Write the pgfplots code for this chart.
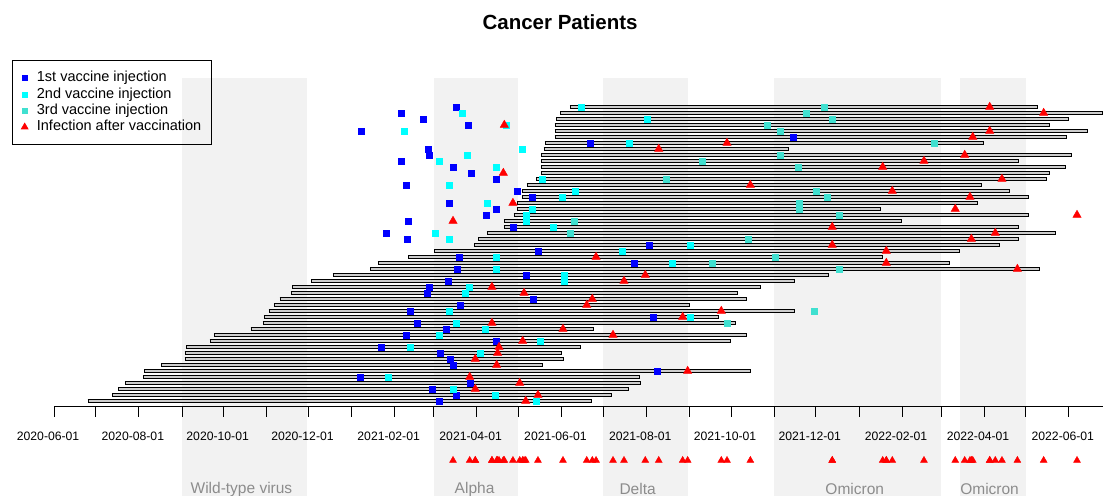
\documentclass[border=0pt]{standalone}
\usepackage{pgfplots}
\pgfplotsset{compat=1.18}
\usepackage{pgfplotstable}
\usepackage{fontspec}
\setmainfont{Liberation Sans}

\definecolor{dose1}{RGB}{0,0,255}
\definecolor{dose2}{RGB}{0,255,255}
\definecolor{dose3}{RGB}{64,224,208}
\definecolor{infect}{RGB}{255,0,0}
\definecolor{band}{RGB}{242,242,242}
\definecolor{bandtext}{RGB}{140,140,140}
\definecolor{barfill}{RGB}{205,205,205}

% x = days since 2020-06-01, row 50 is the top patient
\pgfplotstableread{
row start end d1 d2 d3 inf
50 371.1 708.1 289.6 379.3 554.1 673.1
49 364.2 754.5 249.4 293.7 540.9 711.9
48 361.3 730.4 265.2 427.0 560.1 nan
47 360.1 716.5 298.0 325.6 513.1 323.9
46 360.1 744.0 221.0 251.9 522.2 673.1
45 360.1 728.5 531.8 nan nan 660.9
44 352.9 669.2 386.0 414.1 632.8 484.1
43 352.2 528.7 269.2 337.1 nan 435.0
42 350.5 732.3 270.2 297.1 522.2 655.1
41 350.5 694.4 249.6 277.1 465.9 625.8
40 350.5 728.0 287.2 318.1 535.0 596.1
39 350.5 716.5 299.9 nan nan 323.2
38 346.7 714.5 318.1 351.0 440.2 681.9
37 340.0 667.8 253.2 283.9 nan 500.9
36 336.8 687.9 333.2 375.0 548.4 603.0
35 336.8 701.6 344.3 365.2 556.3 658.9
34 333.2 664.9 283.9 311.9 535.9 330.1
33 332.8 594.9 318.1 344.3 535.9 648.3
32 330.6 701.6 311.2 339.3 564.9 735.9
31 323.5 610.0 255.1 339.3 374.2 287.0
30 323.5 694.2 330.1 358.9 nan 559.8
29 311.4 721.0 238.8 274.2 371.1 677.1
28 305.2 694.2 254.1 283.9 499.7 659.9
27 302.3 680.3 428.0 457.3 nan 559.8
26 273.5 651.9 348.3 408.8 nan 598.7
25 254.8 596.1 291.5 318.1 519.0 389.9
24 233.0 644.7 417.2 445.0 473.3 598.7
23 227.3 709.3 290.1 318.1 564.9 693.0
22 200.4 557.3 339.3 366.8 nan 425.3
21 185.0 532.8 283.4 366.8 nan 410.0
20 171.2 508.3 269.9 298.3 nan 315.0
19 170.2 492.2 268.1 296.1 nan 338.1
18 162.3 498.3 345.0 nan nan 387.2
17 158.2 457.5 292.0 nan nan 383.2
16 154.4 533.0 256.3 283.9 546.9 480.0
15 151.0 478.6 431.1 457.7 nan 452.2
14 150.1 490.4 261.3 289.6 483.9 315.0
13 141.4 388.1 282.4 309.8 nan 366.1
12 115.0 498.3 253.2 277.1 nan 402.1
11 111.9 486.8 318.1 349.8 nan 337.1
10 95.1 378.8 235.0 256.3 nan 320.1
9 94.0 365.2 278.1 306.2 nan 319.1
8 94.0 367.1 285.3 nan nan 303.0
7 77.1 351.5 287.2 nan nan 318.4
6 64.9 501.2 434.0 nan nan 455.8
5 64.2 421.5 220.3 240.4 nan 299.0
4 51.0 422.0 299.4 nan nan 335.0
3 46.2 413.4 272.1 287.2 nan 303.0
2 41.9 401.1 289.4 317.0 nan 348.1
1 24.2 387.3 277.1 346.9 nan 339.3
}\patients

\begin{document}
\begin{tikzpicture}
\begin{axis}[
  x=1.39pt, y=6pt,
  xmin=0, xmax=754.6, ymin=0, ymax=67.83,
  clip=false,
  axis on top,
  axis y line=none, ytick=\empty,
  axis x line*=bottom,
  x axis line style={line width=1pt, -},
  xtick={0,30,61,92,122,153,183,214,245,273,304,334,365,395,426,457,487,518,548,579,610,638,669,699,730},
  xticklabels={2020-06-01,,2020-08-01,,2020-10-01,,2020-12-01,,2021-02-01,,2021-04-01,,2021-06-01,,2021-08-01,,2021-10-01,,2021-12-01,,2022-02-01,,2022-04-01,,2022-06-01},
  tick align=outside, major tick length=10pt,
  xtick style={black, line width=0.8pt},
  xticklabel style={font=\fontsize{12.2}{14}\selectfont, yshift=-11pt, xshift=-6pt},
  legend cell align=left,
  legend image code/.code={\draw[mark repeat=2,mark phase=2,#1] plot coordinates {(0pt,0pt) (4pt,0pt) (8pt,0pt)};},
  legend style={at={(-0.0401,0.8526)}, anchor=north west, draw=black, line width=0.8pt, fill=none,
    font=\fontsize{14.5}{16}\selectfont, inner xsep=9pt, inner ysep=9.8pt, row sep=0.4pt, column sep=7.7pt,
    nodes={inner sep=1.2pt, text height=10.5pt, text depth=3pt}},
]
% variant periods
\addplot[forget plot, fill=band, draw=none] coordinates {(92,-14.83) (182,-14.83) (182,54.83) (92,54.83)};
\addplot[forget plot, fill=band, draw=none] coordinates {(273,-14.83) (334,-14.83) (334,54.83) (273,54.83)};
\addplot[forget plot, fill=band, draw=none] coordinates {(395,-14.83) (456,-14.83) (456,54.83) (395,54.83)};
\addplot[forget plot, fill=band, draw=none] coordinates {(518,-14.83) (638,-14.83) (638,54.83) (518,54.83)};
\addplot[forget plot, fill=band, draw=none] coordinates {(652,-14.83) (699,-14.83) (699,54.83) (652,54.83)};

% follow-up bars
\addplot[forget plot, black, line width=4.4pt,
  quiver={u=\thisrow{end}-\thisrow{start}, v=0}] table[x=start, y=row] {\patients};
\addplot[forget plot, barfill, line width=2.4pt,
  quiver={u=\thisrow{end}-\thisrow{start}, v=0,
    every arrow/.append style={shorten <=1pt, shorten >=1pt}}] table[x=start, y=row] {\patients};

\addplot[only marks, mark=square*, mark size=3pt, color=dose1,
  legend image post style={mark size=2.5pt}] table[x=d1, y=row] {\patients};
\addlegendentry{1st vaccine injection}
\addplot[only marks, mark=square*, mark size=3pt, color=dose2,
  legend image post style={mark size=2.5pt}] table[x=d2, y=row] {\patients};
\addlegendentry{2nd vaccine injection}
\addplot[only marks, mark=square*, mark size=3pt, color=dose3,
  legend image post style={mark size=2.5pt}] table[x=d3, y=row] {\patients};
\addlegendentry{3rd vaccine injection}
\addplot[only marks, mark=triangle*, mark size=4.8pt, color=infect,
  legend image post style={mark size=3.8pt}] table[x=inf, y=row] {\patients};
\addlegendentry{Infection after vaccination}

% infections projected on the time line
\addplot[forget plot, only marks, mark=triangle*, mark size=4pt, color=infect]
  table[x=inf, y expr=-8.9] {\patients};

\node[font=\bfseries\fontsize{20.5}{24}\selectfont] at (axis cs:364,64.17) {Cancer Patients};
\begin{scope}[every node/.style={text=bandtext, font=\fontsize{15.5}{18}\selectfont}]
\node at (axis cs:134.8,-13.67) {Wild-type virus};
\node at (axis cs:302.5,-13.67) {Alpha};
\node at (axis cs:419.8,-13.67) {Delta};
\node at (axis cs:576,-13.67) {Omicron};
\node at (axis cs:673,-13.67) {Omicron};
\end{scope}
\coordinate (bbsw) at (axis cs:-38.9,-14.83);
\coordinate (bbne) at (axis cs:754.6,67.83);
\end{axis}
\pgfresetboundingbox
\useasboundingbox (bbsw) rectangle (bbne);
\end{tikzpicture}
\end{document}
